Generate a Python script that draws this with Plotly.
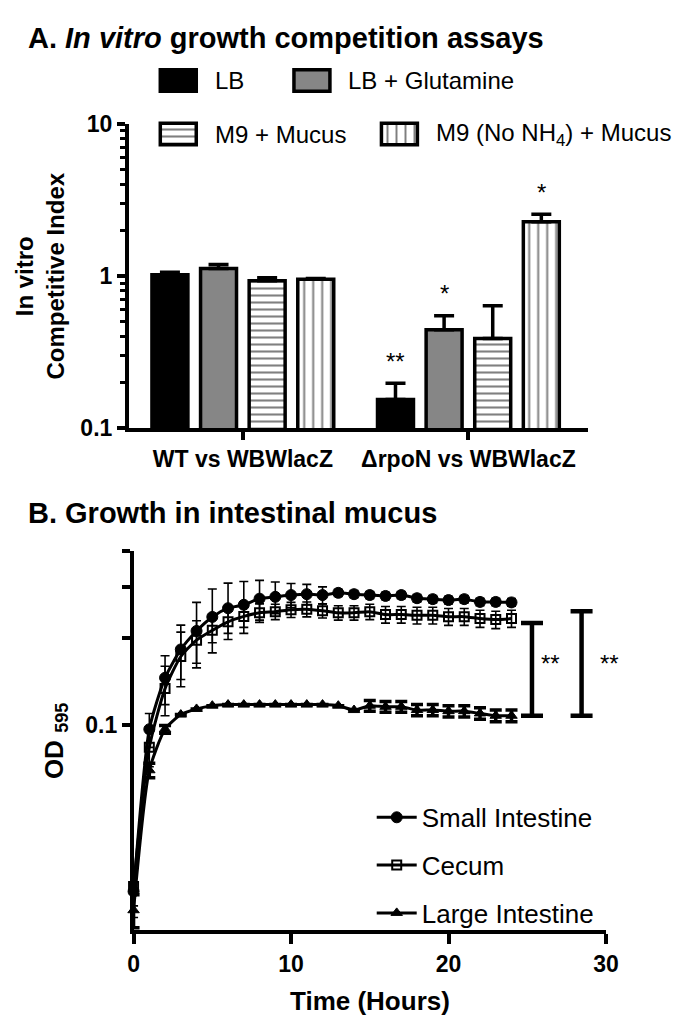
import numpy as np
import plotly.graph_objects as go

FONT = "Liberation Sans, Arial, sans-serif"
W, H = 680, 1025

# ---------------- Panel A data ----------------
groups = ["WT vs WBWlacZ", "\u0394rpoN vs WBWlacZ"]
conditions = ["LB", "LB + Glutamine", "M9 + Mucus", "M9 (No NH<sub>4</sub>) + Mucus"]
ci_LB = [1.02, 0.154]
ci_LB_err = [0.04, 0.043]
ci_LBGln = [1.12, 0.444]
ci_LBGln_err = [0.07, 0.105]
ci_M9 = [0.93, 0.389]
ci_M9_err = [0.045, 0.248]
ci_M9noN = [0.952, 2.276]
ci_M9noN_err = [0.01, 0.27]
sig_LB = ["", "**"]
sig_LBGln = ["", "*"]
sig_M9 = ["", ""]
sig_M9noN = ["", "*"]

# ---------------- Panel B data ----------------
hours = list(range(0, 25))
od_small = [0.0267, 0.097, 0.146, 0.183, 0.212, 0.237, 0.254, 0.261, 0.274, 0.278,
            0.282, 0.284, 0.282, 0.287, 0.284, 0.282, 0.280, 0.282, 0.275, 0.273,
            0.271, 0.273, 0.267, 0.267, 0.266]
od_small_err = [0.005, 0.013, 0.028, 0.039, 0.054, 0.059, 0.056, 0.053, 0.043, 0.035,
                0.027, 0.023, 0.019, 0.008, 0.008, 0.008, 0.008, 0.008, 0.008, 0.008,
                0.008, 0.008, 0.008, 0.008, 0.008]
od_cecum = [0.0278, 0.084, 0.134, 0.173, 0.197, 0.213, 0.228, 0.238, 0.245, 0.247,
            0.251, 0.252, 0.249, 0.245, 0.245, 0.247, 0.2415, 0.2415, 0.240, 0.240,
            0.2375, 0.2375, 0.234, 0.232, 0.234]
od_cecum_err = [0.004, 0.012, 0.026, 0.037, 0.033, 0.020, 0.020, 0.020, 0.018, 0.015,
                0.015, 0.015, 0.014, 0.014, 0.014, 0.015, 0.016, 0.016, 0.016, 0.016,
                0.016, 0.016, 0.016, 0.016, 0.016]
od_large = [0.023, 0.070, 0.097, 0.109, 0.114, 0.117, 0.118, 0.118, 0.118, 0.118,
            0.118, 0.118, 0.118, 0.117, 0.113, 0.117, 0.116, 0.116, 0.113, 0.113,
            0.112, 0.112, 0.110, 0.108, 0.108]
od_large_err = [0.003, 0.004, 0.003, 0, 0, 0, 0, 0, 0, 0,
                0, 0, 0, 0, 0, 0.005, 0.005, 0.005, 0.005, 0.005,
                0.005, 0.005, 0.005, 0.005, 0.005]
series_names = ["Small Intestine", "Cecum", "Large Intestine"]
sig_x = [25.3, 28.45]
sig_low = [0.108, 0.108]
sig_high = [0.2257, 0.2477]
sig_text = ["**", "**"]
sig_text_x = [26.45, 30.25]
sig_text_y = [0.163, 0.163]

fig = go.Figure()

# ---------------- Panel A bars ----------------
bar_sets = [
    (ci_LB, ci_LB_err, sig_LB, dict(color="black")),
    (ci_LBGln, ci_LBGln_err, sig_LBGln, dict(color="#868686")),
    (ci_M9, ci_M9_err, sig_M9, dict(color="white", pattern=dict(shape="-", fgcolor="black", bgcolor="white", size=7, solidity=0.3))),
    (ci_M9noN, ci_M9noN_err, sig_M9noN, dict(color="white", pattern=dict(shape="|", fgcolor="black", bgcolor="white", size=9, solidity=0.22))),
]
BARGAP, BARGROUPGAP = 0.138, 0.26
slot = (1 - BARGAP) / 4
xg = list(range(len(groups)))
for k, (vals, errs, sigs, mk) in enumerate(bar_sets):
    fig.add_trace(go.Bar(
        x=xg, y=vals, name=conditions[k], showlegend=False,
        marker=dict(line=dict(color="black", width=3.5), **mk),
        error_y=dict(type="data", array=errs, arrayminus=[0] * len(errs), symmetric=False,
                     color="black", thickness=3.5, width=10),
        xaxis="x", yaxis="y",
    ))
    for i, s in enumerate(sigs):
        if s:
            fig.add_annotation(x=xg[i] + (k - 1.5) * slot, y=np.log10(vals[i] + errs[i]),
                               xref="x", yref="y", text=s, showarrow=False, xanchor="center",
                               yshift=22, font=dict(family=FONT, size=24, color="black"))

# ---------------- Panel A legend (swatches on a hidden pixel axis) ----------------
leg_cx = [169, 306.5, 169, 396.5]
leg_cy = [61, 61, 116, 116]
leg_tx = [205, 342, 205, 432]
for k, (vals, errs, sigs, mk) in enumerate(bar_sets):
    fig.add_trace(go.Bar(
        x=[leg_cx[k]], y=[22], base=[leg_cy[k] - 11], width=[37], offset=-18.5,
        marker=dict(line=dict(color="black", width=3.5), **mk),
        showlegend=False, xaxis="x3", yaxis="y3", hoverinfo="skip",
    ))
    fig.add_annotation(x=leg_tx[k] / W, y=1 - leg_cy[k] / H, xref="paper", yref="paper",
                       text=conditions[k], showarrow=False, xanchor="left", yanchor="middle",
                       font=dict(family=FONT, size=24, color="black"))

# ---------------- Panel B curves ----------------
styles = [
    dict(symbol="circle", size=11, color="black", line=dict(color="black", width=1)),
    dict(symbol="square-open", size=9, color="black", line=dict(color="black", width=2)),
    dict(symbol="triangle-up", size=10, color="black", line=dict(color="black", width=1)),
]
err_styles = [dict(thickness=1.6, width=4.5), dict(thickness=1.6, width=4.5), dict(thickness=3.5, width=6)]
for ys, es, nm, st, est in zip([od_small, od_cecum, od_large],
                               [od_small_err, od_cecum_err, od_large_err],
                               series_names, styles, err_styles):
    fig.add_trace(go.Scatter(
        x=hours, y=ys, name=nm, mode="lines+markers", legendgroup=nm,
        line=dict(color="black", width=3, shape="spline", smoothing=0.6),
        marker=st, cliponaxis=False,
        error_y=dict(type="data", array=es, color="black", **est),
        xaxis="x2", yaxis="y2",
    ))

fig.add_trace(go.Scatter(
    x=sig_x, y=sig_low, mode="markers", marker=dict(size=1, color="rgba(0,0,0,0)"),
    error_y=dict(type="data", symmetric=False,
                 array=[h - l for h, l in zip(sig_high, sig_low)], arrayminus=[0] * len(sig_x),
                 color="black", thickness=4.5, width=11),
    showlegend=False, cliponaxis=False, xaxis="x2", yaxis="y2", hoverinfo="skip",
))

# x-axis B geometry (for placing the significance labels, one lies past the axis end)
XB0, XB1, XB_RANGE = 123, 609, 30
for tx, ty, tt in zip(sig_text_x, sig_text_y, sig_text):
    fig.add_annotation(x=(XB0 + (XB1 - XB0) * tx / XB_RANGE) / W, y=np.log10(ty),
                       xref="paper", yref="y2", text=tt, showarrow=False, xanchor="center",
                       font=dict(family=FONT, size=24, color="black"))

# ---------------- Titles & axis titles ----------------
def ann(text, px, py, size, bold=True, angle=0, xanchor="center"):
    fig.add_annotation(x=px / W, y=1 - py / H, xref="paper", yref="paper",
                       text=f"<b>{text}</b>" if bold else text, showarrow=False,
                       xanchor=xanchor, yanchor="middle", textangle=angle,
                       font=dict(family=FONT, size=size, color="black"))

ann("A. <i>In vitro</i> growth competition assays", 12, 17, 29, xanchor="left")
ann("B. Growth in intestinal mucus", 12, 505, 29, xanchor="left")
ann("In vitro<br>Competitive Index", 27, 262, 24, angle=-90)
ann("OD <sub>595</sub>", 42, 738, 26, angle=-90)
ann("Time (Hours)", 366, 1005, 26)

axis_common = dict(showline=True, linecolor="black", linewidth=3.5, ticks="outside",
                   tickcolor="black", tickwidth=3.5, showgrid=False, zeroline=False,
                   tickfont=dict(family=FONT, size=23, color="black"))

fig.update_layout(
    width=W, height=H, margin=dict(l=0, r=0, t=0, b=0),
    paper_bgcolor="white", plot_bgcolor="rgba(0,0,0,0)",
    barmode="group", bargap=BARGAP, bargroupgap=BARGROUPGAP,
    xaxis=dict(domain=[118 / W, 590 / W], range=[-0.506, 1.528], tickvals=xg,
               ticktext=[f"<b>{g}</b>" for g in groups], ticklen=8, anchor="y", **axis_common),
    yaxis=dict(domain=[1 - 417.7 / H, 1 - 105.7 / H], type="log", range=[-1, 1],
               tickvals=[0.1, 1, 10], ticktext=["<b>0.1</b>", "<b>1</b>", "<b>10</b>"],
               ticklen=8, anchor="x",
               minor=dict(ticks="outside", ticklen=5, tickwidth=2.5, tickcolor="black",
                          tickvals=[0.2, 0.3, 0.4, 0.5, 0.6, 0.7, 0.8, 0.9, 2, 3, 4, 5, 6, 7, 8, 9]),
               **axis_common),
    xaxis2=dict(domain=[XB0 / W, XB1 / W], range=[0, XB_RANGE], tickvals=[0, 10, 20, 30],
                ticktext=["<b>0</b>", "<b>10</b>", "<b>20</b>", "<b>30</b>"], ticklen=10,
                anchor="y2", **axis_common),
    yaxis2=dict(domain=[1 - 933 / H, 1 - 543.9 / H], type="log",
                range=[np.log10(0.0196), np.log10(0.4)],
                tickvals=[0.1], ticktext=["<b>0.1</b>"], ticklen=8, anchor="x2",
                minor=dict(ticks="outside", ticklen=8, tickwidth=3.5, tickcolor="black",
                           tickvals=[0.2, 0.3, 0.4]),
                **axis_common),
    xaxis3=dict(domain=[0, 1], range=[0, W], visible=False, anchor="y3"),
    yaxis3=dict(domain=[0, 1], range=[H, 0], visible=False, anchor="x3"),
    legend=dict(x=368 / W, y=1 - 793 / H, xanchor="left", yanchor="top",
                font=dict(family=FONT, size=26, color="black"), tracegroupgap=11,
                bgcolor="rgba(0,0,0,0)", itemwidth=40),
    showlegend=True,
)

fig.write_html("out.html")
